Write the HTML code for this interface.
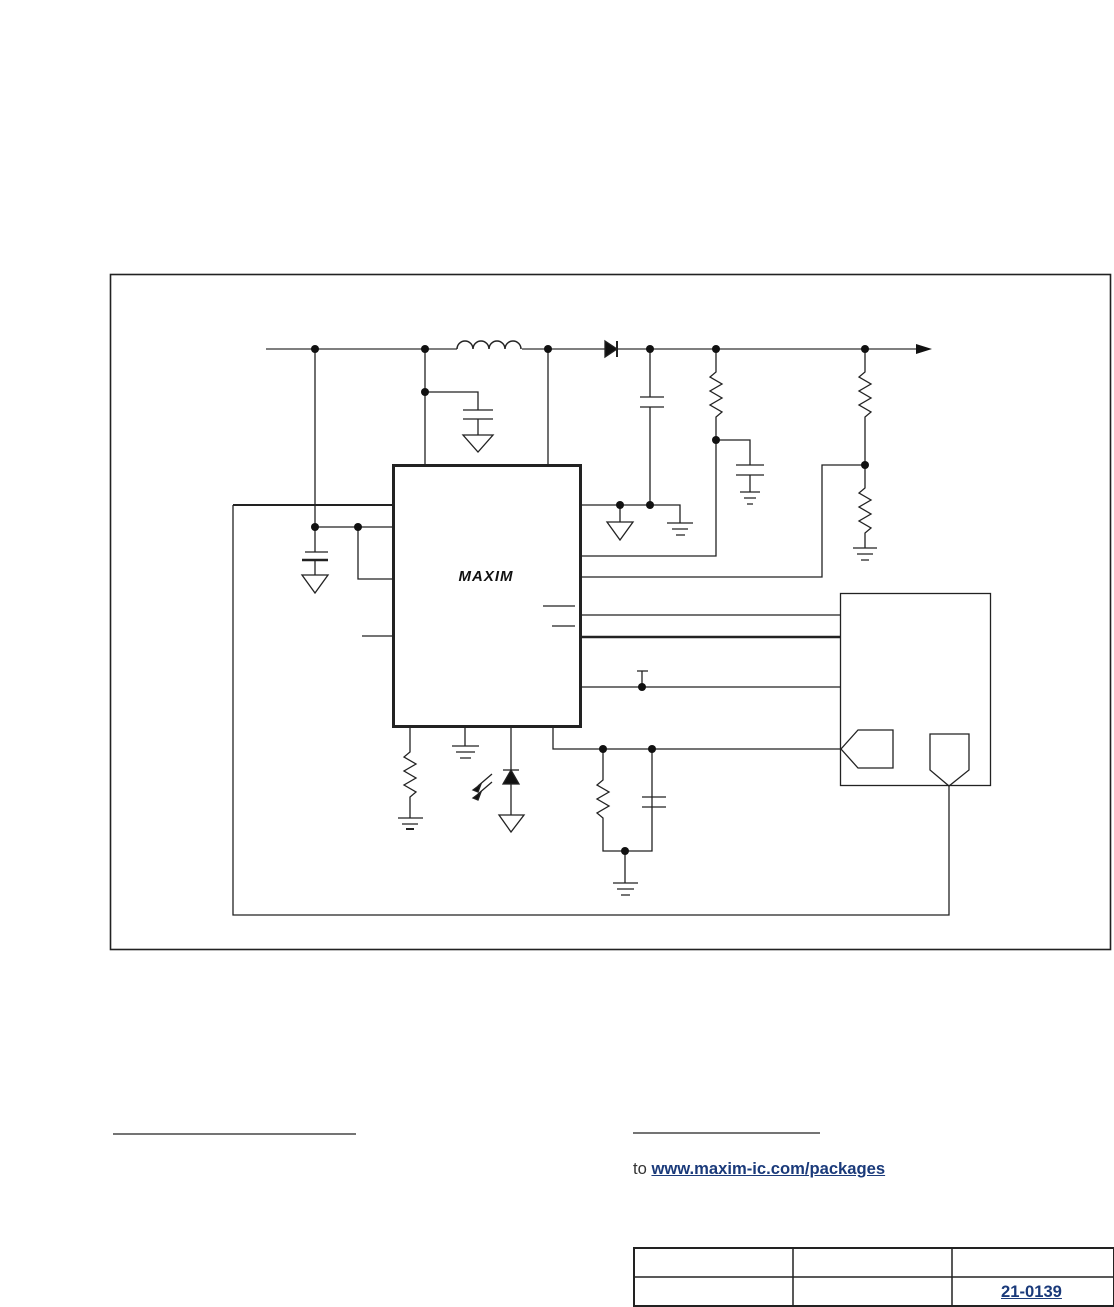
<!DOCTYPE html>
<html><head><style>
body{margin:0;background:#fff;width:1114px;height:1307px;overflow:hidden;position:relative;font-family:"Liberation Sans",sans-serif}
a{color:#1a3a7a;font-weight:bold}
</style></head><body>
<svg width="1114" height="1307" style="position:absolute;left:0;top:0" fill="none" stroke="#222" stroke-width="1.3">
<rect x="110.5" y="274.5" width="1000" height="675" stroke-width="1.6"/>
<path d="M266 349H457M522 349H605M617 349H920" stroke="#555" stroke-width="1.6"/>
<path d="M457 349a8 8 0 0 1 16 0a8 8 0 0 1 16 0a8 8 0 0 1 16 0a8 8 0 0 1 16 0" stroke-width="1.5"/>
<polygon points="605,341 617,349 605,357" fill="#111"/><path d="M617 341V357" stroke-width="2"/>
<polygon points="916,344 932,349 916,354" fill="#111" stroke="none"/>
<path d="M315 349V552M305 552H328M315 560V575M302 575H328L315 593Z"/><path d="M302 560H328" stroke-width="2.5"/>
<path d="M425 349V465M425 392H478V410M463 410H493M463 419H493M478 419V435M463 435H493L478 452Z"/>
<path d="M548 349V465"/>
<rect x="393.5" y="465.5" width="187" height="261" stroke-width="3"/>
<text x="486" y="581" font-family="Liberation Sans" font-weight="bold" font-style="italic" font-size="15" fill="#111" stroke="none" text-anchor="middle" letter-spacing="1">MAXIM</text>
<path d="M650 349V397M640 397H664M640 407H664M650 407V505M580 505H680V523M667 523H693M672 529H688M676 535H685M620 505V522M607 522H633L620 540Z"/>
<path d="M716 349V372L710 377L722 384L710 391L722 398L710 405L722 412L716 417V556H580"/>
<path d="M716 440H750V465M736 465H764M736 475H764M750 475V492M740 492H760M744 498H756M747 504H753"/>
<path d="M865 349V372L859 377L871 384L859 391L871 398L859 405L871 412L865 417V488L859 493L871 500L859 507L871 514L859 521L871 528L865 533V548M853 548H877M857 554H873M861 560H869"/>
<path d="M865 465H822V577H580"/>
<path d="M233 505H393M233 505V915H949V786" /><path d="M233 505H393" stroke-width="2"/>
<path d="M315 527H393M358 527V579H393M362 636H393"/>
<path d="M543 606H575M552 626H575"/>
<path d="M580 615H840M580 687H840M642 687V671M637 671H648"/><path d="M580 637H840" stroke-width="2.5"/>
<rect x="840.5" y="593.5" width="150" height="192"/>
<path d="M893 730H858L841 749L858 768H893Z"/>
<path d="M930 734H969V770L949 786L930 770Z"/>
<path d="M553 727V749H840M603 749V780L597 785L609 792L597 799L609 806L597 813L603 818V851H652V749M642 797H666M642 807H666M625 851V883M613 883H638M617 889H634M621 895H630"/>
<path d="M410 727V752L404 757L416 764L404 771L416 778L404 785L416 792L410 797V818M398 818H423M402 824H418"/><path d="M406 829H414" stroke-width="2"/>
<path d="M465 727V746M452 746H479M456 752H475M460 758H471"/>
<path d="M511 727V815M499 815H524L511 832Z"/>
<polygon points="503,784 519,784 511,770" fill="#111"/><path d="M503 770H519"/>
<path d="M492 774L478 786M492 782L478 794" stroke-width="1.3"/>
<polygon points="473,790 481,784 478,792" fill="#111"/><polygon points="473,798 481,792 478,800" fill="#111"/>
<g fill="#111" stroke="none">
<circle cx="315" cy="349" r="4"/><circle cx="425" cy="349" r="4"/><circle cx="548" cy="349" r="4"/><circle cx="650" cy="349" r="4"/><circle cx="716" cy="349" r="4"/><circle cx="865" cy="349" r="4"/>
<circle cx="425" cy="392" r="4"/><circle cx="716" cy="440" r="4"/><circle cx="865" cy="465" r="4"/>
<circle cx="620" cy="505" r="4"/><circle cx="650" cy="505" r="4"/><circle cx="315" cy="527" r="4"/><circle cx="358" cy="527" r="4"/>
<circle cx="642" cy="687" r="4"/><circle cx="603" cy="749" r="4"/><circle cx="652" cy="749" r="4"/><circle cx="625" cy="851" r="4"/>
</g>
<path d="M113 1134H356M633 1133H820" stroke-width="1.2"/>
<rect x="634" y="1248" width="480" height="58" stroke-width="2"/>
<path d="M634 1277H1114M793 1248V1306M952 1248V1306" stroke-width="1.5"/>
</svg>
<div style="position:absolute;left:633px;top:1159px;font-size:16.6px;color:#333">to <a style="text-decoration:underline">www.maxim-ic.com/packages</a></div>
<div style="position:absolute;left:1001px;top:1282px;font-size:16.6px"><a style="text-decoration:underline">21-0139</a></div>
</body></html>
